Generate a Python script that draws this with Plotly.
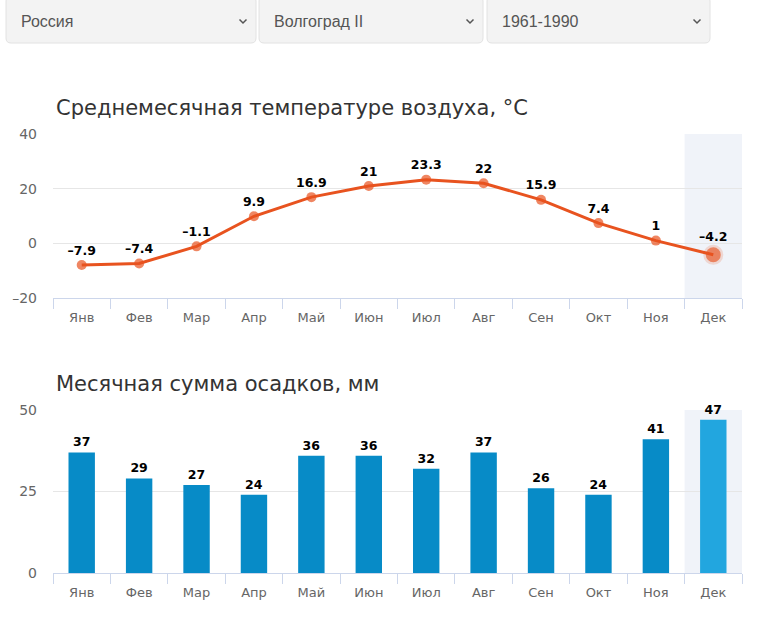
import plotly.graph_objects as go

months = ["Янв", "Фев", "Мар", "Апр", "Май", "Июн", "Июл", "Авг", "Сен", "Окт", "Ноя", "Дек"]
temperature = [-7.9, -7.4, -1.1, 9.9, 16.9, 21, 23.3, 22, 15.9, 7.4, 1, -4.2]
precipitation = [37, 29, 27, 24, 36, 36, 32, 37, 26, 24, 41, 47]
temp_ticks = [-20, 0, 20, 40]
temp_tick_labels = ["–20", "0", "20", "40"]
prec_ticks = [0, 25, 50]
prec_tick_labels = ["0", "25", "50"]
selectors = ["Россия", "Волгоград II", "1961-1990"]
title_temp = "Среднемесячная температуре воздуха, °C"
title_prec = "Месячная сумма осадков, мм"

W, H = 759, 619
FONT = "DejaVu Sans"


def px_x(x):
    return x / W


def px_y(y):
    return 1 - y / H


def fmt(v):
    return ("%g" % v).replace("-", "–")


line_color = "#e8531f"
bar_color = "#078bc7"
bar_hi = "#22a6df"
hi_idx = len(months) - 1

fig = go.Figure()

# temperature line
fig.add_trace(go.Scatter(
    x=months, y=temperature, mode="lines+markers+text",
    line=dict(color=line_color, width=3),
    marker=dict(color=line_color,
                size=[10] * hi_idx + [15],
                line=dict(color=["rgba(0,0,0,0)"] * hi_idx + ["rgba(232,83,31,0.25)"],
                          width=[0] * hi_idx + [5])),
    text=[fmt(v) for v in temperature], textposition="top center",
    textfont=dict(family=FONT, size=12.5, color="#000", weight="bold"),
    xaxis="x", yaxis="y", cliponaxis=False, hoverinfo="skip",
))

# precipitation bars
fig.add_trace(go.Bar(
    x=months, y=precipitation,
    marker=dict(color=[bar_color] * hi_idx + [bar_hi], line=dict(width=0)),
    width=0.46,
    text=[str(v) for v in precipitation], textposition="outside",
    textfont=dict(family=FONT, size=12.5, color="#000", weight="bold"),
    xaxis="x2", yaxis="y2", cliponaxis=False, hoverinfo="skip",
))

xdom = [px_x(53), px_x(742)]
axis_common = dict(
    type="category", range=[-0.5, 11.5], showgrid=False, automargin=False,
    showline=True, linecolor="#ccd6eb", linewidth=1,
    ticks="outside", tickson="boundaries", ticklen=10, tickcolor="#ccd6eb",
    ticklabelstandoff=7,
    tickfont=dict(family=FONT, size=13, color="#666"), fixedrange=True,
)
yaxis_common = dict(
    showgrid=True, gridcolor="#e6e6e6", gridwidth=1, zeroline=False, automargin=False,
    showline=False, ticks="", tickfont=dict(family=FONT, size=14, color="#666"),
    ticklabelstandoff=15, fixedrange=True,
)

fig.update_layout(
    width=W, height=H, margin=dict(l=0, r=0, t=0, b=0, autoexpand=False),
    paper_bgcolor="white", plot_bgcolor="rgba(0,0,0,0)",
    showlegend=False,
    xaxis=dict(domain=xdom, anchor="y", **axis_common),
    yaxis=dict(domain=[px_y(298), px_y(134)], range=[-20, 40], tickvals=temp_ticks,
               ticktext=temp_tick_labels, anchor="x", **yaxis_common),
    xaxis2=dict(domain=xdom, anchor="y2", **axis_common),
    yaxis2=dict(domain=[px_y(573), px_y(410)], range=[0, 50], tickvals=prec_ticks,
                ticktext=prec_tick_labels, anchor="x2", **yaxis_common),
)

# highlight bands on the last month
band = "rgba(204,214,235,0.3)"
fig.add_shape(type="rect", xref="x", yref="y domain", x0=hi_idx - 0.5, x1=hi_idx + 0.5,
              y0=0, y1=1, fillcolor=band, line=dict(width=0), layer="below")
fig.add_shape(type="rect", xref="x2", yref="y2 domain", x0=hi_idx - 0.5, x1=hi_idx + 0.5,
              y0=0, y1=1, fillcolor=band, line=dict(width=0), layer="below")

# titles
fig.add_annotation(text=title_temp, xref="paper", yref="paper", x=px_x(54), y=px_y(108),
                   xanchor="left", yanchor="middle", showarrow=False,
                   font=dict(family=FONT, size=21, color="#333"))
fig.add_annotation(text=title_prec, xref="paper", yref="paper", x=px_x(54), y=px_y(384),
                   xanchor="left", yanchor="middle", showarrow=False,
                   font=dict(family=FONT, size=21, color="#333"))

# select boxes
boxes = [(6, 256), (259, 483), (487, 710)]


def rounded(x0, y0, x1, y1, r):
    X0, X1 = px_x(x0), px_x(x1)
    Y0, Y1 = px_y(y0), px_y(y1)
    rx, ry = r / W, r / H
    return (f"M{X0+rx},{Y0} L{X1-rx},{Y0} Q{X1},{Y0} {X1},{Y0-ry} "
            f"L{X1},{Y1+ry} Q{X1},{Y1} {X1-rx},{Y1} L{X0+rx},{Y1} "
            f"Q{X0},{Y1} {X0},{Y1+ry} L{X0},{Y0-ry} Q{X0},{Y0} {X0+rx},{Y0} Z")


for (bx0, bx1), label in zip(boxes, selectors):
    fig.add_shape(type="path", xref="paper", yref="paper",
                  path=rounded(bx0, -4, bx1, 43, 5),
                  fillcolor="#f3f3f3", line=dict(color="#e2e2e2", width=1))
    fig.add_annotation(text=label, xref="paper", yref="paper", x=px_x(bx0 + 13), y=px_y(22),
                       xanchor="left", yanchor="middle", showarrow=False,
                       font=dict(family="Liberation Sans", size=16, color="#555"))
    cx = bx1 - 13
    fig.add_shape(type="path", xref="paper", yref="paper",
                  path=f"M{px_x(cx-3.5)},{px_y(19.5)} L{px_x(cx)},{px_y(23)} L{px_x(cx+3.5)},{px_y(19.5)}",
                  line=dict(color="#555", width=1.5))

fig.write_html("out.html", config={"displayModeBar": False},
               post_script="document.body.style.margin='0';document.body.style.overflow='hidden';")
